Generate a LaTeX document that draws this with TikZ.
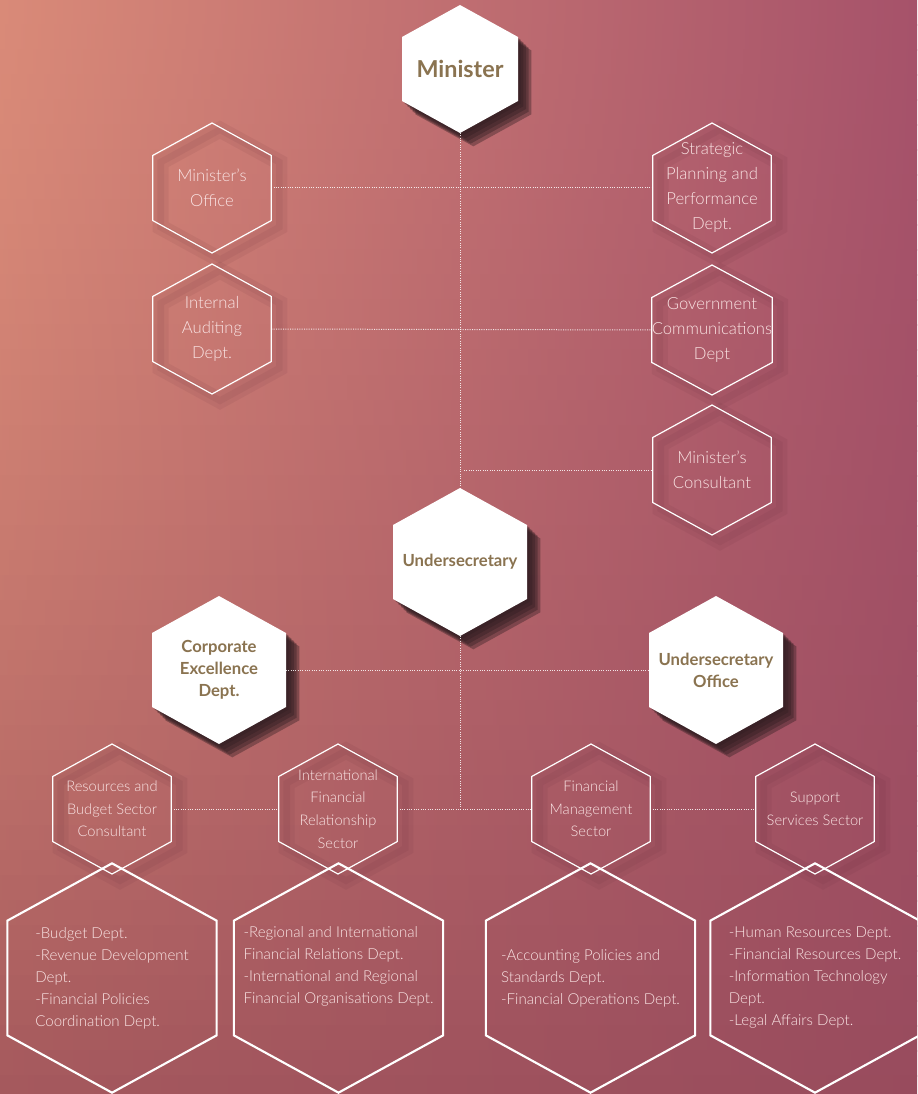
\documentclass[tikz,border=0pt]{standalone}
\usepackage{fontspec}
\setmainfont{Lato}[UprightFont=* Light, BoldFont=* Bold]
\usetikzlibrary{calc}

\definecolor{bgtl}{RGB}{217,138,120}
\definecolor{bgtr}{RGB}{166,82,106}
\definecolor{bgbl}{RGB}{164,88,92}
\definecolor{bgbr}{RGB}{152,75,93}
\definecolor{titletxt}{RGB}{138,115,80}
\definecolor{paletxt}{RGB}{250,228,228}
\definecolor{shadowtone}{RGB}{50,30,34}
\definecolor{hazetone}{RGB}{90,35,50}

\pgfdeclarelayer{bg}
\pgfdeclarelayer{hexes}
\pgfsetlayers{bg,hexes,main}

% pointy-top hexagon fitted to a node's box
\newcommand\hexpath[1]{(#1.north) -- ($(#1.north east)!.25!(#1.south east)$) -- ($(#1.north east)!.75!(#1.south east)$) -- (#1.south) -- ($(#1.north west)!.75!(#1.south west)$) -- ($(#1.north west)!.25!(#1.south west)$) -- cycle}

\begin{document}
\begin{tikzpicture}[
        x=0.75pt, y=-0.75pt,
        every node/.style={outer sep=0pt, inner sep=0pt},
        chief/.style={minimum width=87pt, minimum height=96pt, font=\fontsize{17.5}{20}\selectfont\bfseries, text=titletxt},
        lead/.style={minimum width=100.5pt, minimum height=111pt, align=center, font=\fontsize{12.5}{16.5}\selectfont\bfseries, text=titletxt},
        unitbox/.style={minimum width=89pt, minimum height=97.5pt, align=center, font=\fontsize{12.5}{18.75}\selectfont, text=paletxt},
        sectorbox/.style={unitbox, font=\fontsize{11}{17}\selectfont},
        deptbox/.style={minimum width=157pt, minimum height=172pt, align=left, font=\fontsize{11.3}{16.5}\selectfont, text=paletxt},
        link/.style={white, densely dotted, line width=0.75pt, opacity=0.85},
        solidhex/.style={fill=white},
        softshadow/.style={fill=shadowtone, opacity=0.4, transform canvas={shift={(#1pt,-#1pt)}}},
        openhex/.style={draw=white, line width=0.9pt},
        bighex/.style={draw=white, line width=1.6pt},
        haze/.style={draw=hazetone, opacity=0.08, line width=#1pt, transform canvas={shift={(6pt,-5pt)}}}
    ]

    \useasboundingbox (0,0) rectangle (917,1094);

    % background: bands shaded left to right, darker towards the bottom
    \begin{pgfonlayer}{bg}
        \foreach \i in {0,...,43} {
            \pgfmathsetmacro\p{100*((\i+0.5)/44)^1.6}
            \shade[left color=bgbl!\p!bgtl, right color=bgbr!\p!bgtr]
                (0,{\i*25}) rectangle (917,{\i*25+26});
        }
    \end{pgfonlayer}

    \node[chief] (min) at (460,69) {Minister};

    \node[unitbox] (mo) at (212,188) {Minister’s\\Office};
    \node[unitbox] (ia) at (212,329) {Internal\\Auditing\\Dept.};
    \node[unitbox] (sp) at (712,188) {Strategic\\Planning and\\Performance\\Dept.};
    \node[unitbox] (gc) at (712,330) {Government\\Communications\\Dept};
    \node[unitbox] (mc) at (712,470) {Minister’s\\Consultant};

    \node[lead] (us) at (460,562) {Undersecretary};
    \node[lead] (ce) at (219,670) {Corporate\\Excellence\\Dept.};
    \node[lead] (uo) at (716,670) {Undersecretary\\Office};

    \node[sectorbox] (rb)  at (112,809) {Resources and\\Budget Sector\\Consultant};
    \node[sectorbox] (ifr) at (338,809) {International\\Financial\\Relationship\\Sector};
    \node[sectorbox] (fm)  at (591,809) {Financial\\Management\\Sector};
    \node[sectorbox] (ss)  at (815,809) {Support\\Services Sector};

    \node[deptbox] (rbl) at (112,978) {-Budget Dept.\\-Revenue Development\\Dept.\\-Financial Policies\\Coordination Dept.};
    \node[deptbox, text depth=19pt] (ifl) at (338.5,978) {-Regional and International\\Financial Relations Dept.\\-International and Regional\\Financial Organisations Dept.};
    \node[deptbox] (fml) at (590.5,978) {-Accounting Policies and\\Standards Dept.\\-Financial Operations Dept.};
    \node[deptbox] (ssl) at (815,978) {-Human Resources Dept.\\-Financial Resources Dept.\\-Information Technology\\Dept.\\-Legal Affairs Dept.};

    \coordinate (split) at (460,809);
    \coordinate (mctap) at (464,470);

    \draw[link] (min.south) -- (us.north);
    \draw[link] (us.south) -- (split);
    \draw[link] (mo.east) -- (sp.west);
    \draw[link] (ia.east) -- (gc.west);
    \draw[link] (mctap) -- (mc.west);
    \draw[link] (ce.east) -- (uo.west);
    \draw[link] (rb.east) -- (ifr.west);
    \draw[link] (ifr.east) -- (fm.west);
    \draw[link] (fm.east) -- (ss.west);

    \begin{pgfonlayer}{hexes}
        \foreach \h in {min,us,ce,uo} {
            \foreach \s in {2,4,6,8,10}
                \fill[softshadow=\s] \hexpath{\h};
            \fill[solidhex] \hexpath{\h};
        }
        \foreach \h in {mo,ia,sp,gc,mc,rb,ifr,fm,ss} {
            \draw[haze=12] \hexpath{\h};
            \draw[haze=5] \hexpath{\h};
            \draw[openhex] \hexpath{\h};
        }
        \foreach \h in {rbl,ifl,fml,ssl}
            \draw[bighex] \hexpath{\h};
    \end{pgfonlayer}
\end{tikzpicture}
\end{document}
